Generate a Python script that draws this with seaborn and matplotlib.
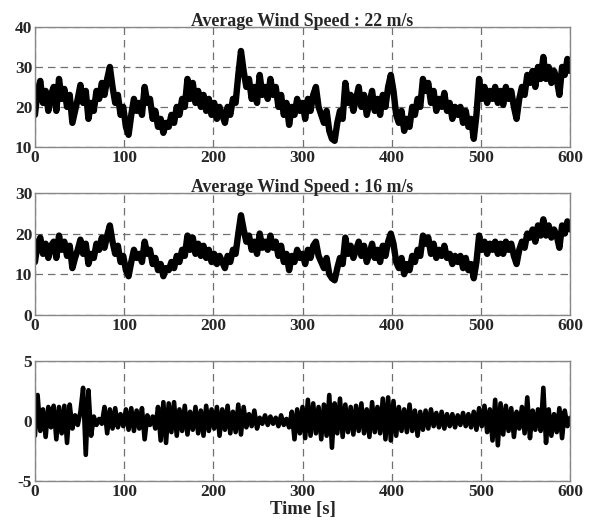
import numpy as np
import pandas as pd
import seaborn as sns
import matplotlib.pyplot as plt

# time axis, one sample every 3 s
time_s = np.arange(0, 601, 3)

# wind speed, average 22 m/s
wind_22 = [
    18, 24, 26.5, 21, 24, 19, 23, 25, 19, 27,
    22, 24.5, 20, 23, 16, 19, 22, 25.5, 21, 24,
    17, 21, 19, 24, 22, 26, 23, 27, 30, 25,
    21, 23, 18, 20, 15, 13, 18, 22, 19, 21,
    18, 25, 21, 22, 17, 19, 15, 17, 13.5, 16,
    15, 18, 16, 20, 18, 22, 20, 27, 22, 26,
    21, 24, 20, 23, 19, 22, 18, 21, 17, 20,
    18, 16, 20, 18, 22, 21, 28, 34, 29, 25,
    27, 22, 25, 21, 28, 23, 25, 22, 27, 23,
    25, 20, 23, 18, 21, 15.5, 20, 18, 22, 19,
    21, 17, 22, 19, 23, 25, 20, 18, 16, 19,
    14, 12, 11.5, 16, 19, 17, 26, 21, 23, 19,
    22, 25, 20, 23, 18, 21, 24, 19, 22, 18,
    23, 20, 25, 28, 24, 18, 16, 19, 14, 17,
    15, 20, 18, 22, 20, 27, 24, 26, 21, 24,
    19, 22, 20, 23.5, 19, 21, 17, 20, 18, 20,
    16, 19, 15, 17, 12, 18, 27, 22, 25, 21,
    24, 22, 25, 21, 24, 20.5, 25, 22, 24, 20,
    17, 22, 25, 23, 28, 26, 29, 25, 30, 27,
    32.5, 27, 30, 26, 29, 27, 23, 30, 28, 32,
    29,
]

# wind speed, average 16 m/s
wind_16 = [
    13, 17.5, 19, 15, 17.5, 14, 17, 18, 14, 19.5,
    16, 18, 14.5, 17, 11.5, 14, 16, 18.5, 15, 17.5,
    12.5, 15, 14, 17.5, 16, 19, 16.5, 19.5, 22, 18,
    15, 17, 13, 14.5, 11, 9.5, 13, 16, 14, 15,
    13, 18, 15, 16, 12.5, 14, 11, 12.5, 9.5, 11.5,
    11, 13, 11.5, 14.5, 13, 16, 14.5, 19.5, 16, 19,
    15, 17.5, 14.5, 17, 14, 16, 13, 15, 12.5, 14.5,
    13, 11.5, 14.5, 13, 16, 15, 20, 24.5, 21, 18,
    19.5, 16, 18, 15, 20, 16.5, 18, 16, 19.5, 16.5,
    18, 14.5, 17, 13, 15, 11, 14.5, 13, 16, 14,
    15, 12.5, 16, 14, 17, 18, 14.5, 13, 11.5, 14,
    10, 9, 8.5, 11.5, 14, 12.5, 19, 15, 17, 14,
    16, 18, 14.5, 17, 13, 15, 17.5, 14, 16, 13,
    17, 14.5, 18, 20, 17.5, 13, 11.5, 14, 10, 12.5,
    11, 14.5, 13, 16, 14.5, 19.5, 17.5, 19, 15, 17.5,
    14, 16, 14.5, 17, 14, 15, 12.5, 14.5, 13, 14.5,
    11.5, 14, 11, 12.5, 9, 13, 19.5, 16, 18, 15,
    17.5, 16, 18, 15, 17.5, 15, 18, 16, 17.5, 14.5,
    12.5, 16, 18, 16.5, 20, 19, 21, 18, 22, 19.5,
    23.5, 19.5, 22, 19, 21, 19.5, 16.5, 22, 20, 23,
    21,
]

# turbulent component
turb = [
    -1.2, 2.2, -0.8, 1.0, -1.3, 1.2, -0.5, 1.3, -1.5, 1.2,
    -1.0, 1.3, -1.8, 1.4, -0.6, 0.5, -0.3, 0.8, 2.8, -2.8,
    2.6, -1.2, 0.4, -0.3, 0.2, -0.2, 1.2, -1.0, 1.0, -0.6,
    1.1, -0.5, 0.6, -0.4, 1.0, -0.7, 1.1, -0.8, 0.9, -0.6,
    1.1, -1.5, 0.5, -0.3, 0.4, -0.6, 1.2, -1.6, 1.6, -1.8,
    1.5, -0.9, 1.6, -1.2, 1.0, -0.8, 1.3, -1.1, 0.8, -0.7,
    1.2, -1.0, 0.9, -1.2, 1.3, -0.8, 1.0, -0.6, 1.2, -1.2,
    1.0, -0.7, 1.3, -1.0, 0.8, -0.9, 1.4, -1.1, 1.2, -0.5,
    0.6, -0.4, 0.9, -0.6, 0.3, -0.2, 0.5, -0.3, 0.4, -0.2,
    0.3, -0.4, 0.5, -0.3, 0.2, -0.5, 0.8, -1.5, 1.0, -1.0,
    1.2, -1.4, 1.8, -1.2, 1.5, -1.0, 1.2, -1.5, 1.4, -1.2,
    2.2, -2.2, 1.5, -1.0, 1.9, -1.3, 1.4, -0.9, 1.2, -1.1,
    1.3, -0.8, 1.5, -1.0, 1.0, -1.3, 1.6, -0.9, 1.2, -1.0,
    1.9, -1.5, 2.0, -1.6, 1.7, -1.2, 1.2, -0.8, 1.0, -0.9,
    1.4, -0.8, 0.9, -1.2, 0.8, -0.7, 0.9, -0.6, 1.0, -0.4,
    0.7, -0.5, 0.8, -0.6, 0.6, -0.4, 0.6, -0.5, 0.5, -0.3,
    0.7, -0.4, 0.6, -0.5, 0.8, -0.7, 1.1, -0.4, 1.3, -0.9,
    1.0, -1.6, 1.8, -2.0, 1.5, -1.1, 1.3, -0.8, 1.1, -1.3,
    0.8, -0.6, 1.2, -1.0, 2.0, -1.4, 0.9, -0.7, 1.0, -0.8,
    2.8, -1.8, 1.0, -1.2, 0.6, -0.9, 1.1, -1.4, 0.9, -0.4,
    0.3,
]

df = pd.DataFrame({"t": time_s, "w22": wind_22, "w16": wind_16, "turb": turb})

sns.set_style("white")
plt.rcParams['font.family'] = ['Liberation Serif', 'DejaVu Serif']
plt.rcParams['font.weight'] = 'bold'
plt.rcParams['axes.unicode_minus'] = False

fig = plt.figure(figsize=(5.92, 5.3), dpi=100)
panels = [
    ("w22", [0.059, 0.723, 0.904, 0.226], [10, 40], [10, 20, 30, 40], "Average Wind Speed : 22 m/s", 4.6),
    ("w16", [0.059, 0.406, 0.904, 0.230], [0, 30], [0, 10, 20, 30], "Average Wind Speed : 16 m/s", 4.6),
    ("turb", [0.059, 0.092, 0.904, 0.226], [-5, 5], [-5, 0, 5], None, 3.3),
]

for col, rect, ylim, yticks, title, lw in panels:
    ax = fig.add_axes(rect)
    sns.lineplot(data=df, x="t", y=col, color="black", linewidth=lw, ax=ax, legend=False)
    ax.set_xlim(0, 600)
    ax.set_ylim(*ylim)
    ax.set_xticks(range(0, 601, 100))
    ax.set_yticks(yticks)
    ax.grid(True, color='#707070', linestyle=(0, (6, 4)), linewidth=0.9)
    ax.set_axisbelow(True)
    for s in ax.spines.values():
        s.set_color('#888888')
        s.set_linewidth(1.0)
    ax.tick_params(axis='both', direction='in', length=3, color='#888888',
                   labelsize=12.5, pad=2)
    for lab in ax.get_xticklabels() + ax.get_yticklabels():
        lab.set_fontweight('bold')
    ax.set_xlabel("")
    ax.set_ylabel("")
    if title:
        ax.set_title(title, fontsize=12.8, fontweight='bold', pad=1)

ax.set_xlabel("Time [s]", fontsize=13.5, fontweight='bold', labelpad=1)

fig.savefig("out.png", dpi=100)
